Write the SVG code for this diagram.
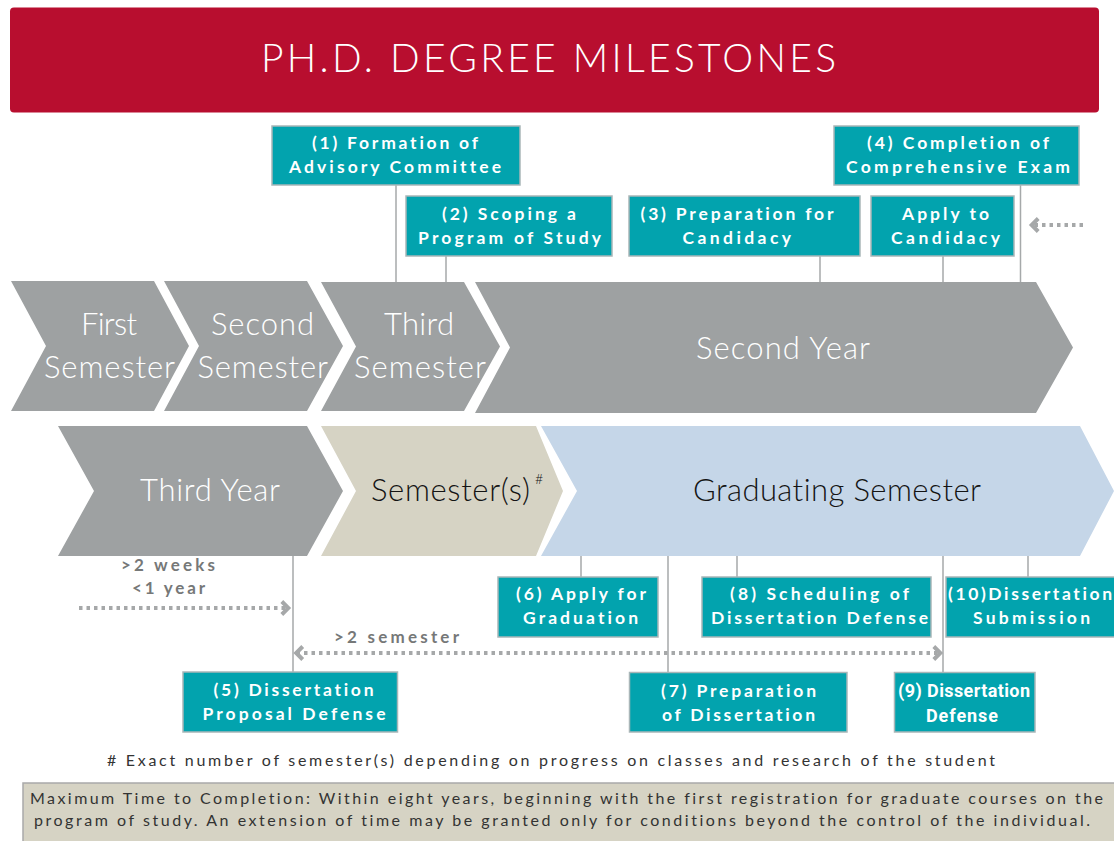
<svg xmlns="http://www.w3.org/2000/svg" width="1114" height="841" viewBox="0 0 1114 841">
<style>
text{font-variant-ligatures:none}
.box{fill:#02A3AE;stroke:#A9B6B8;stroke-width:1.5}
.bt{font-family:Lato,"Open Sans",sans-serif;font-weight:700;font-size:17.5px;fill:#fff}
.bt2{font-family:Roboto,"Open Sans",sans-serif;font-weight:700;font-size:18px;fill:#fff}
.gry{fill:#9EA1A2}
.ct{font-family:Lato,"Open Sans",sans-serif;font-weight:300;font-size:31px;fill:#fff}
.ck{font-family:Lato,"Open Sans",sans-serif;font-weight:300;font-size:31px;fill:#141414}
.lbl{font-family:Lato,"Open Sans",sans-serif;font-weight:700;font-size:17px;fill:#767878}
.tick{stroke:#A6A9AA;stroke-width:1.5;fill:none}
.dot{stroke:#A6A8A9;stroke-width:4;stroke-dasharray:3.5 4;fill:none}
.note{font-family:Lato,"Open Sans",sans-serif;font-weight:400;fill:#333}
</style>
<defs>
<marker id="chev" viewBox="0 0 13 16" refX="8.2" refY="8" markerWidth="13" markerHeight="16" orient="auto-start-reverse" markerUnits="userSpaceOnUse">
<path d="M2,1.5 L8.5,8 L2,14.5" fill="none" stroke="#A6A8A9" stroke-width="4" stroke-dasharray="none" stroke-linejoin="miter"/>
</marker>
</defs>

<g id="title">
<rect x="10" y="7.5" width="1089" height="105" rx="4" fill="#B80E2F"/>
<text x="261" y="72" font-family="Lato,'Open Sans',sans-serif" font-weight="300" font-size="39" fill="#fff" textLength="575" lengthAdjust="spacing">PH.D. DEGREE MILESTONES</text>
</g>

<g id="connectors">
<line class="tick" x1="396" y1="185" x2="396" y2="282"/>
<line class="tick" x1="446" y1="256" x2="446" y2="282"/>
<line class="tick" x1="820" y1="256" x2="820" y2="282"/>
<line class="tick" x1="943" y1="256" x2="943" y2="282"/>
<line class="tick" x1="1020.5" y1="185" x2="1020.5" y2="282"/>
<line class="tick" x1="293" y1="556" x2="293" y2="672"/>
<line class="tick" x1="581" y1="556" x2="581" y2="577"/>
<line class="tick" x1="668" y1="556" x2="668" y2="672"/>
<line class="tick" x1="737" y1="556" x2="737" y2="577"/>
<line class="tick" x1="943" y1="556" x2="943" y2="672"/>
<line class="tick" x1="1028" y1="556" x2="1028" y2="577"/>
<line class="dot" x1="1083" y1="225" x2="1032" y2="225" marker-end="url(#chev)"/>
<line class="dot" x1="79" y1="608" x2="288" y2="608" marker-end="url(#chev)"/>
<line class="dot" x1="296.5" y1="653" x2="940" y2="653" marker-start="url(#chev)" marker-end="url(#chev)"/>
</g>

<g id="first-semester">
<polygon class="gry" points="11,281 154,281 189,346 154,411 11,411 46,346"/>
<text class="ct" x="81" y="335" textLength="56" lengthAdjust="spacing">First</text>
<text class="ct" x="44" y="378" textLength="131" lengthAdjust="spacing">Semester</text>
</g>
<g id="second-semester">
<polygon class="gry" points="164,281 307,281 343,346 307,411 164,411 199,346"/>
<text class="ct" x="211" y="335" textLength="103" lengthAdjust="spacing">Second</text>
<text class="ct" x="197.5" y="378" textLength="130.5" lengthAdjust="spacing">Semester</text>
</g>
<g id="third-semester">
<polygon class="gry" points="321,282 464,282 500,346.5 464,411 321,411 356,346.5"/>
<text class="ct" x="384" y="335" textLength="70" lengthAdjust="spacing">Third</text>
<text class="ct" x="354" y="378" textLength="132" lengthAdjust="spacing">Semester</text>
</g>
<g id="second-year">
<polygon class="gry" points="475,282 1036,282 1073,347.5 1036,413 475,413 510,347.5"/>
<text class="ct" x="696" y="359" textLength="174" lengthAdjust="spacing">Second Year</text>
</g>
<g id="third-year">
<polygon class="gry" points="58,426 307,426 343,491 307,556 58,556 94,491"/>
<text class="ct" x="140" y="501" textLength="140" lengthAdjust="spacing">Third Year</text>
</g>
<g id="semesters">
<polygon fill="#D6D3C4" points="321,426 536,426 563,491 536,556 321,556 356,491"/>
<text class="ck" x="371" y="501" textLength="159" lengthAdjust="spacing">Semester(s)</text>
<text x="535" y="484" font-family="Lato,'Open Sans',sans-serif" font-weight="300" font-size="14" fill="#141414">#</text>
</g>
<g id="graduating-semester">
<polygon fill="#C5D6E8" points="541,426 1080,426 1114,491 1080,556 541,556 577,491"/>
<text class="ck" x="693" y="501" textLength="288" lengthAdjust="spacing">Graduating Semester</text>
</g>

<g id="m1">
<rect class="box" x="272" y="126" width="248" height="59"/>
<text class="bt" x="312" y="148.5" textLength="166" lengthAdjust="spacing">(1) Formation of</text>
<text class="bt" x="289" y="172.5" textLength="212" lengthAdjust="spacing">Advisory Committee</text>
</g>
<g id="m2">
<rect class="box" x="406" y="196" width="206" height="60"/>
<text class="bt" x="442" y="219.5" textLength="134" lengthAdjust="spacing">(2) Scoping a</text>
<text class="bt" x="418" y="243.5" textLength="183" lengthAdjust="spacing">Program of Study</text>
</g>
<g id="m3">
<rect class="box" x="629" y="196" width="231" height="60"/>
<text class="bt" x="640.5" y="219.5" textLength="193" lengthAdjust="spacing">(3) Preparation for</text>
<text class="bt" x="682.5" y="243.5" textLength="108.5" lengthAdjust="spacing">Candidacy</text>
</g>
<g id="apply-candidacy">
<rect class="box" x="871" y="196" width="143" height="60"/>
<text class="bt" x="902" y="219.5" textLength="87" lengthAdjust="spacing">Apply to</text>
<text class="bt" x="891" y="243.5" textLength="109" lengthAdjust="spacing">Candidacy</text>
</g>
<g id="m4">
<rect class="box" x="834" y="126" width="245" height="59"/>
<text class="bt" x="867" y="148.5" textLength="182" lengthAdjust="spacing">(4) Completion of</text>
<text class="bt" x="846" y="172.5" textLength="224" lengthAdjust="spacing">Comprehensive Exam</text>
</g>
<g id="m5">
<rect class="box" x="183" y="672" width="214.5" height="60"/>
<text class="bt" x="213.5" y="695.5" textLength="160" lengthAdjust="spacing">(5) Dissertation</text>
<text class="bt" x="202.5" y="720" textLength="183" lengthAdjust="spacing">Proposal Defense</text>
</g>
<g id="m6">
<rect class="box" x="498" y="577" width="160" height="60"/>
<text class="bt" x="516" y="600" textLength="130" lengthAdjust="spacing">(6) Apply for</text>
<text class="bt" x="523" y="624" textLength="115" lengthAdjust="spacing">Graduation</text>
</g>
<g id="m7">
<rect class="box" x="629.5" y="672.5" width="217.5" height="59.5"/>
<text class="bt" x="661" y="696.5" textLength="155" lengthAdjust="spacing">(7) Preparation</text>
<text class="bt" x="662" y="721" textLength="153" lengthAdjust="spacing">of Dissertation</text>
</g>
<g id="m8">
<rect class="box" x="702" y="577" width="229" height="60"/>
<text class="bt" x="730" y="600" textLength="179" lengthAdjust="spacing">(8) Scheduling of</text>
<text class="bt" x="711" y="624" textLength="217" lengthAdjust="spacing">Dissertation Defense</text>
</g>
<g id="m9">
<rect class="box" x="894.5" y="672.5" width="140.5" height="59.5"/>
<text class="bt2" x="898" y="696.5" textLength="132" lengthAdjust="spacing">(9) Dissertation</text>
<text class="bt2" x="926" y="722" textLength="72" lengthAdjust="spacing">Defense</text>
</g>
<g id="m10">
<rect class="box" x="946" y="577" width="180" height="60"/>
<text class="bt" x="948" y="600" textLength="164" lengthAdjust="spacing">(10)Dissertation</text>
<text class="bt" x="973" y="624" textLength="117" lengthAdjust="spacing">Submission</text>
</g>

<g id="labels">
<text class="lbl" x="121" y="571" textLength="94" lengthAdjust="spacing">&gt;2 weeks</text>
<text class="lbl" x="132" y="594" textLength="73" lengthAdjust="spacing">&lt;1 year</text>
<text class="lbl" x="334" y="642.5" textLength="125" lengthAdjust="spacing">&gt;2 semester</text>
</g>

<g id="notes">
<text class="note" x="107" y="765.5" font-size="16" textLength="888" lengthAdjust="spacing"># Exact number of semester(s) depending on progress on classes and research of the student</text>
<rect x="23" y="783" width="1100" height="70" fill="#D6D3C4" stroke="#A9A9A9" stroke-width="1.5"/>
<text class="note" x="30" y="804" font-size="16" textLength="1073" lengthAdjust="spacing">Maximum Time to Completion: Within eight years, beginning with the first registration for graduate courses on the</text>
<text class="note" x="34" y="826" font-size="16" textLength="1056" lengthAdjust="spacing">program of study. An extension of time may be granted only for conditions beyond the control of the individual.</text>
</g>
</svg>
